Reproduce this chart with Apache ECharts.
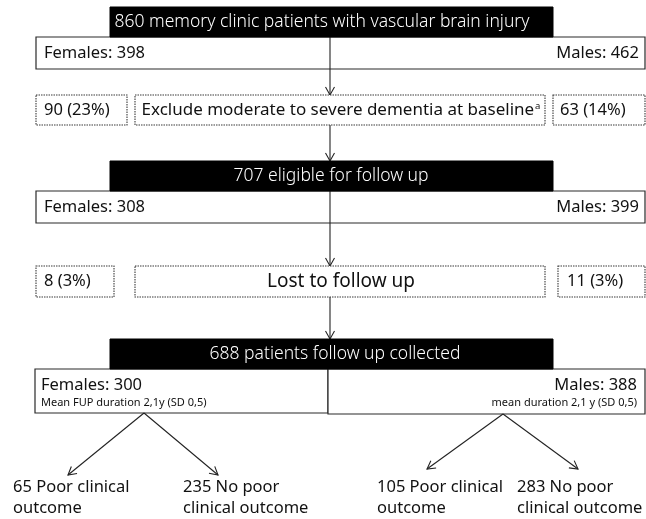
<!DOCTYPE html>
<html>
<head>
<meta charset="utf-8">
<script src="https://cdn.jsdelivr.net/npm/echarts@6/dist/echarts.min.js"></script>
<style>html,body{margin:0;padding:0;background:#fff}#c{width:646px;height:519px}</style>
</head>
<body>
<div id="c"></div>
<script>
// ---- data ----
const titles = ['860 memory clinic patients with vascular brain injury', '707 eligible for follow up', '688 patients follow up collected'];
const femaleCounts = [398, 308, 300];
const maleCounts = [462, 399, 388];
const excludedFemale = [90, 8];
const excludedFemalePct = [23, 3];
const excludedMale = [63, 11];
const excludedMalePct = [14, 3];
const exclusionReasons = ['Exclude moderate to severe dementia at baseline', 'Lost to follow up'];
const exclusionFootnote = ['a', ''];
const fupNotes = ['Mean FUP duration 2,1y (SD 0,5)', 'mean duration 2,1 y (SD 0,5)'];
const outcomeCounts = [65, 235, 105, 283];
const outcomeLabels = ['Poor clinical\noutcome', 'No poor\nclinical outcome', 'Poor clinical\noutcome', 'No poor\nclinical outcome'];

// ---- layout (positions in chart units) ----
const FONT = '"Noto Sans", "Open Sans", sans-serif';
const LAY = {
  titleBox: [[110, 7, 443, 30], [110, 161, 443, 30], [110, 339, 443, 30]],
  titleTextX: [322, 331, 335],
  titleSize: 17.5,
  sexBox: [[36, 37, 609, 32], [36, 191, 609, 32]],
  exclRow: [[95, 30], [266, 31]],
  exclLeft: [[36, 91], [36, 78]],
  exclMid: [[135, 410], [135, 410]],
  exclRight: [[553, 92], [558, 87]],
  exclLeftTextX: [44, 44],
  exclRightTextX: [560, 567],
  exclMidSize: [17, 19],
  femaleBox: [35, 369, 293, 44],
  maleBox: [328, 369, 317, 45],
  vArrows: [[37, 95], [125, 161], [191, 266], [297, 339]],
  trunkX: 330,
  splits: [[144, 413, 68, 475, 218, 475], [503, 414, 427, 469, 578, 469]],
  outcomeX: [13, 183, 377, 517],
  outcomeY: 497.5
};

// ---- build element list ----
const els = [];
const rect = (b, o) => els.push(Object.assign({ kind: 'rect', x: b[0], y: b[1], w: b[2], h: b[3] }, o));
const text = (t, x, y, o) => els.push(Object.assign({ kind: 'text', t, x, y }, o));
const arrow = (x1, y1, x2, y2) => els.push({ kind: 'arrow', x1, y1, x2, y2 });
const solid = { fill: '#fff', stroke: '#2a2a2a', lw: 1.2 };
const dotted = { fill: '#fff', stroke: '#3a3a3a', lw: 1.1, dash: [1.5, 1] };

// stage boxes (sex splits)
for (let i = 0; i < 2; i++) {
  rect(LAY.sexBox[i], solid);
  const b = LAY.sexBox[i];
  text('Females: ' + femaleCounts[i], 44, b[1] + b[3] / 2, { size: 16.5 });
  text('Males: ' + maleCounts[i], 639, b[1] + b[3] / 2, { size: 16.5, align: 'right' });
}
// final split boxes
rect(LAY.femaleBox, solid);
rect(LAY.maleBox, solid);
text('Females: ' + femaleCounts[2], 41, 385, { size: 16.5 });
text(fupNotes[0], 41, 403, { size: 11 });
text('Males: ' + maleCounts[2], 637, 385, { size: 16.5, align: 'right' });
text(fupNotes[1], 637, 403, { size: 11, align: 'right' });

// vertical trunk arrows
LAY.vArrows.forEach(a => arrow(LAY.trunkX, a[0], LAY.trunkX, a[1]));

// black title boxes (drawn over the trunk)
for (let i = 0; i < 3; i++) {
  const b = LAY.titleBox[i];
  rect(b, { fill: '#000', stroke: '#000', lw: 1 });
  text(titles[i], LAY.titleTextX[i], b[1] + b[3] / 2, { size: LAY.titleSize, color: '#fff', align: 'center', weight: 300 });
}

// exclusion rows
for (let i = 0; i < 2; i++) {
  const [y, h] = LAY.exclRow[i];
  const l = LAY.exclLeft[i], m = LAY.exclMid[i], r = LAY.exclRight[i];
  rect([l[0], y, l[1], h], dotted);
  rect([m[0], y, m[1], h], dotted);
  rect([r[0], y, r[1], h], dotted);
  text(excludedFemale[i] + ' (' + excludedFemalePct[i] + '%)', LAY.exclLeftTextX[i], y + h / 2, { size: 16.5 });
  text(excludedMale[i] + ' (' + excludedMalePct[i] + '%)', LAY.exclRightTextX[i], y + h / 2, { size: 16.5 });
  const sup = exclusionFootnote[i] ? '{sup|' + exclusionFootnote[i] + '}' : '';
  text(exclusionReasons[i] + sup, m[0] + m[1] / 2 + 1, y + h / 2, { size: LAY.exclMidSize[i], align: 'center' });
}

// outcome splits
LAY.splits.forEach(s => { arrow(s[0], s[1], s[2], s[3]); arrow(s[0], s[1], s[4], s[5]); });
for (let i = 0; i < 4; i++) {
  text(outcomeCounts[i] + ' ' + outcomeLabels[i], LAY.outcomeX[i], LAY.outcomeY, { size: 16.5, lineHeight: 21 });
}

// ---- render ----
function renderItem(params, api) {
  const e = els[params.dataIndex];
  const p = (x, y) => api.coord([x, y]);
  if (e.kind === 'rect') {
    const a = p(e.x, e.y), b = p(e.x + e.w, e.y + e.h);
    return { type: 'rect', shape: { x: a[0], y: a[1], width: b[0] - a[0], height: b[1] - a[1] },
      style: { fill: e.fill, stroke: e.stroke, lineWidth: e.lw, lineDash: e.dash || null } };
  }
  if (e.kind === 'text') {
    const a = p(e.x, e.y);
    return { type: 'text', x: a[0], y: a[1],
      style: { text: e.t, fill: e.color || '#111', fontSize: e.size, fontFamily: FONT, fontWeight: e.weight || 'normal',
        align: e.align || 'left', verticalAlign: 'middle', lineHeight: e.lineHeight || undefined,
        rich: { sup: { fontSize: 9.5, fontFamily: FONT, fill: '#111', padding: [0, 0, 7, 1] } } } };
  }
  const a = p(e.x1, e.y1), b = p(e.x2, e.y2);
  const dx = b[0] - a[0], dy = b[1] - a[1], len = Math.hypot(dx, dy);
  const ux = dx / len, uy = dy / len, nx = -uy, ny = ux;
  const hl = 8, hw = 4.5;
  return { type: 'group', children: [
    { type: 'line', shape: { x1: a[0], y1: a[1], x2: b[0], y2: b[1] }, style: { stroke: '#222', lineWidth: 1.1 } },
    { type: 'polyline', shape: { points: [[b[0] - ux * hl + nx * hw, b[1] - uy * hl + ny * hw], b, [b[0] - ux * hl - nx * hw, b[1] - uy * hl - ny * hw]] },
      style: { stroke: '#222', lineWidth: 1.1, fill: null } }
  ] };
}

const chart = echarts.init(document.getElementById('c'));
chart.setOption({
  animation: false,
  grid: { left: 0, right: 0, top: 0, bottom: 0 },
  xAxis: { type: 'value', min: 0, max: 646, show: false },
  yAxis: { type: 'value', min: 0, max: 519, inverse: true, show: false },
  series: [{
    type: 'custom', clip: false, silent: true,
    renderItem,
    data: els.map((_, i) => [i, 0])
  }]
});
</script>
</body>
</html>
